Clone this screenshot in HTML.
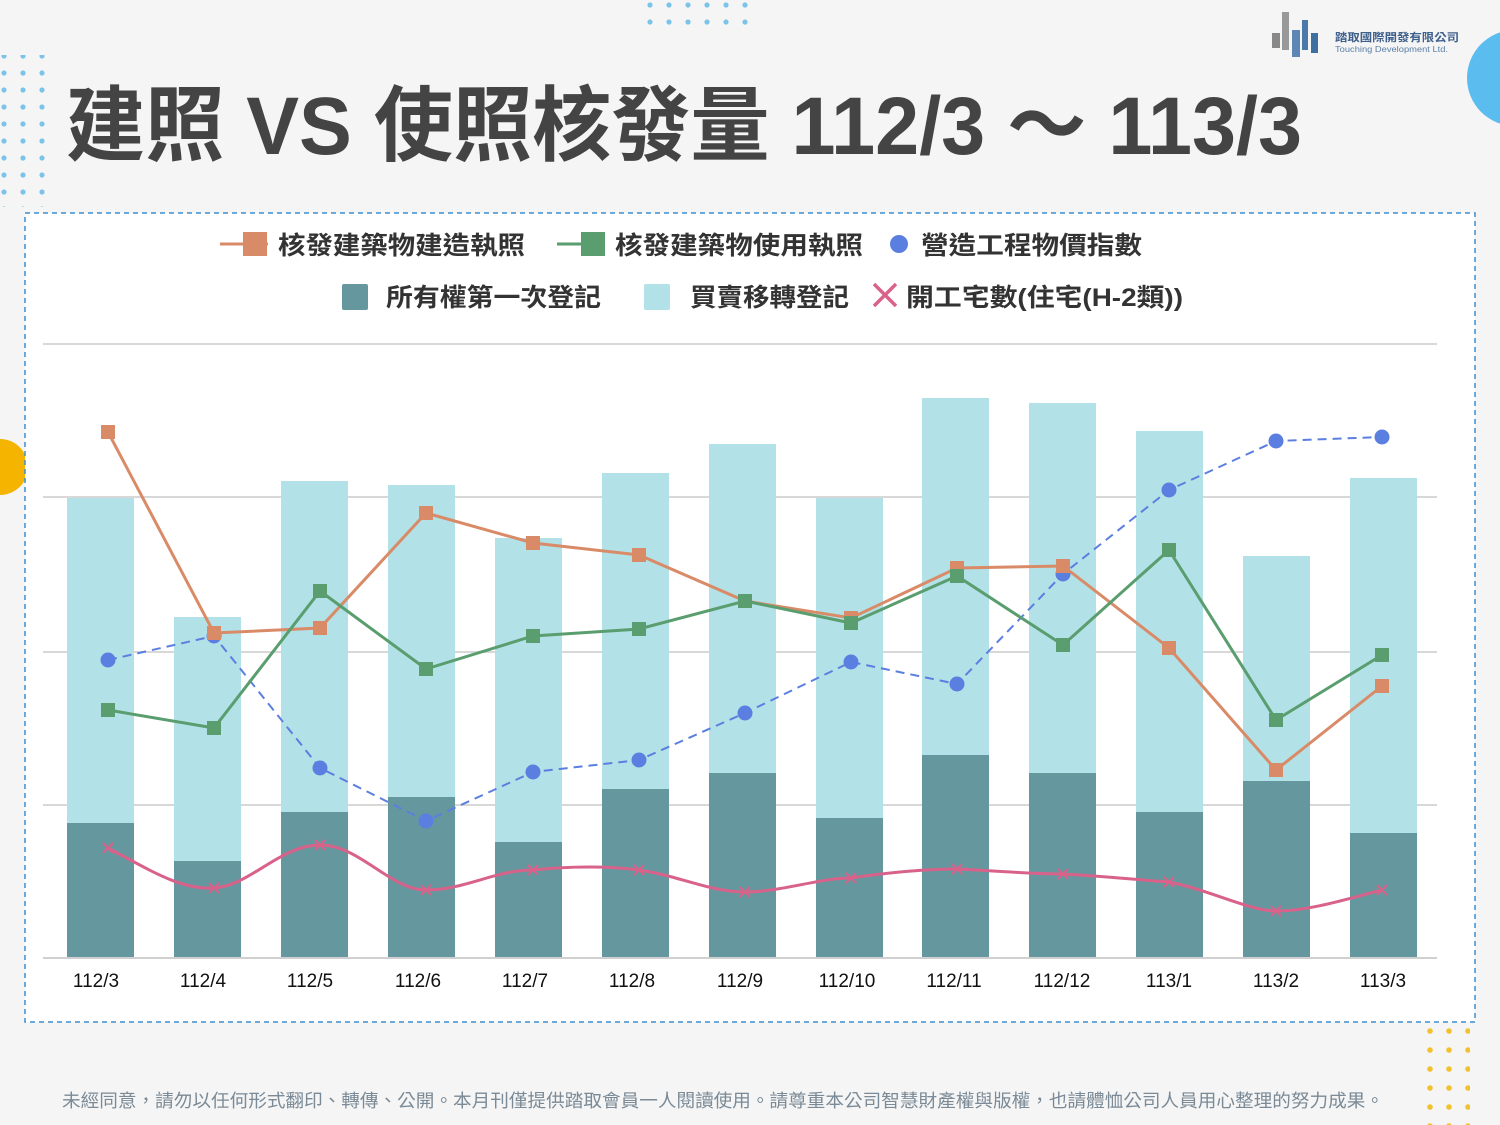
<!DOCTYPE html>
<html><head><meta charset="utf-8"><style>
body{margin:0;width:1500px;height:1125px;background:#f6f6f6;overflow:hidden;font-family:"Liberation Sans","Noto Sans CJK TC",sans-serif;}
</style></head><body>
<svg width="1500" height="1125" xmlns="http://www.w3.org/2000/svg" style="position:absolute;left:0;top:0">
<defs>
<pattern id="dots" width="19" height="17" patternUnits="userSpaceOnUse"><circle cx="4" cy="5" r="2.6" fill="#7cc3ea"/></pattern>
<pattern id="ydots" width="19" height="19" patternUnits="userSpaceOnUse"><circle cx="5" cy="5" r="2.8" fill="#f2c12e"/></pattern>
<pattern id="tdots" width="19" height="17" patternUnits="userSpaceOnUse"><circle cx="4" cy="5" r="2.6" fill="#7cc3ea"/></pattern>
</defs>
<rect width="1500" height="1125" fill="#f5f5f5"/>
<rect x="0" y="55" width="52" height="152" fill="url(#dots)"/>
<rect x="640" y="2" width="110" height="32" fill="url(#tdots)"/>
<rect x="1418" y="1025" width="52" height="100" fill="url(#ydots)"/>
<circle cx="1515" cy="78" r="48" fill="#5bbcf0"/>
<circle cx="0" cy="467" r="28" fill="#f5b400"/>
<g>
<rect x="1272" y="33" width="8" height="15" fill="#888"/><rect x="1282" y="12" width="7" height="38" fill="#999"/>
<rect x="1292" y="30" width="8" height="27" fill="#5b86b5"/><rect x="1302" y="20" width="6" height="30" fill="#4a79aa"/><rect x="1311" y="33" width="7" height="20" fill="#3f6fa0"/>
</g>
<text x="1335" y="41" font-size="11" font-weight="bold" fill="#3d5f8c" textLength="124" lengthAdjust="spacingAndGlyphs">踏取國際開發有限公司</text>
<text x="1335" y="52" font-size="8" fill="#5a7fa8" textLength="113" lengthAdjust="spacingAndGlyphs">Touching Development Ltd.</text>
<text x="66" y="154" font-size="82" font-weight="bold" fill="#444" textLength="1236" lengthAdjust="spacingAndGlyphs">建照 VS 使照核發量 112/3 ～ 113/3</text>
<rect x="25" y="213" width="1450" height="809" fill="#fff" stroke="#3d8fd0" stroke-width="1.5" stroke-dasharray="5,4"/>
<line x1="220" y1="244" x2="268" y2="244" stroke="#d98b68" stroke-width="3"/><rect x="243" y="232" width="24" height="24" fill="#d98b68"/>
<text x="278" y="254" font-size="25" font-weight="bold" fill="#333" textLength="247" lengthAdjust="spacingAndGlyphs">核發建築物建造執照</text>
<line x1="557" y1="244" x2="605" y2="244" stroke="#5a9d6e" stroke-width="3"/><rect x="581" y="232" width="24" height="24" fill="#5a9d6e"/>
<text x="615" y="254" font-size="25" font-weight="bold" fill="#333" textLength="248" lengthAdjust="spacingAndGlyphs">核發建築物使用執照</text>
<circle cx="899" cy="244" r="9" fill="#5b7fe0"/>
<text x="921" y="254" font-size="25" font-weight="bold" fill="#333" textLength="221" lengthAdjust="spacingAndGlyphs">營造工程物價指數</text>
<rect x="342" y="284" width="26" height="26" rx="2" fill="#65979f"/>
<text x="386" y="306" font-size="25" font-weight="bold" fill="#333" textLength="215" lengthAdjust="spacingAndGlyphs">所有權第一次登記</text>
<rect x="644" y="284" width="26" height="26" rx="2" fill="#b2e1e7"/>
<text x="690" y="306" font-size="25" font-weight="bold" fill="#333" textLength="159" lengthAdjust="spacingAndGlyphs">買賣移轉登記</text>
<path d="M874 284 L896 306 M896 284 L874 306" stroke="#d9628a" stroke-width="3.5"/>
<text x="906" y="306" font-size="25" font-weight="bold" fill="#333" textLength="277" lengthAdjust="spacingAndGlyphs">開工宅數(住宅(H-2類))</text>
<g stroke="#d8d8d8" stroke-width="2">
<line x1="43" y1="344" x2="1437" y2="344"/><line x1="43" y1="497" x2="1437" y2="497"/><line x1="43" y1="652" x2="1437" y2="652"/><line x1="43" y1="805" x2="1437" y2="805"/>
</g>
<g fill="#b2e1e7">
<rect x="67" y="498" width="67" height="460"/><rect x="174" y="617" width="67" height="341"/><rect x="281" y="481" width="67" height="477"/><rect x="388" y="485" width="67" height="473"/><rect x="495" y="538" width="67" height="420"/><rect x="602" y="473" width="67" height="485"/><rect x="709" y="444" width="67" height="514"/><rect x="816" y="498" width="67" height="460"/><rect x="922" y="398" width="67" height="560"/><rect x="1029" y="403" width="67" height="555"/><rect x="1136" y="431" width="67" height="527"/><rect x="1243" y="556" width="67" height="402"/><rect x="1350" y="478" width="67" height="480"/>
</g>
<g fill="#65979f">
<rect x="67" y="823" width="67" height="135"/><rect x="174" y="861" width="67" height="97"/><rect x="281" y="812" width="67" height="146"/><rect x="388" y="797" width="67" height="161"/><rect x="495" y="842" width="67" height="116"/><rect x="602" y="789" width="67" height="169"/><rect x="709" y="773" width="67" height="185"/><rect x="816" y="818" width="67" height="140"/><rect x="922" y="755" width="67" height="203"/><rect x="1029" y="773" width="67" height="185"/><rect x="1136" y="812" width="67" height="146"/><rect x="1243" y="781" width="67" height="177"/><rect x="1350" y="833" width="67" height="125"/>
</g>
<line x1="43" y1="958" x2="1437" y2="958" stroke="#d0d0d0" stroke-width="2"/>
<path d="M108 848 C150 870,180 890,214 888 C250 886,280 845,320 845 C360 845,390 890,426 890 C465 890,495 870,533 870 C570 866,610 866,639 870 C680 876,710 892,745 892 C780 892,820 878,851 878 C890 872,930 869,957 869 C1000 871,1030 874,1063 874 C1100 876,1140 880,1169 882 C1210 890,1250 911,1276 911 C1310 911,1350 898,1382 890" fill="none" stroke="#d9628a" stroke-width="3"/>
<g stroke="#d9628a" stroke-width="2">
<path d="M103 843l10 10M113 843l-10 10M209 883l10 10M219 883l-10 10M315 840l10 10M325 840l-10 10M421 885l10 10M431 885l-10 10M528 865l10 10M538 865l-10 10M634 865l10 10M644 865l-10 10M740 887l10 10M750 887l-10 10M846 873l10 10M856 873l-10 10M952 864l10 10M962 864l-10 10M1058 869l10 10M1068 869l-10 10M1164 877l10 10M1174 877l-10 10M1271 906l10 10M1281 906l-10 10M1377 885l10 10M1387 885l-10 10"/>
</g>
<polyline points="108,660 214,636 320,768 426,821 533,772 639,760 745,713 851,662 957,684 1063,574 1169,490 1276,441 1382,437" fill="none" stroke="#5b7fe0" stroke-width="2" stroke-dasharray="9,6"/>
<g fill="#5b7fe0">
<circle cx="108" cy="660" r="7.5"/><circle cx="214" cy="636" r="7.5"/><circle cx="320" cy="768" r="7.5"/><circle cx="426" cy="821" r="7.5"/><circle cx="533" cy="772" r="7.5"/><circle cx="639" cy="760" r="7.5"/><circle cx="745" cy="713" r="7.5"/><circle cx="851" cy="662" r="7.5"/><circle cx="957" cy="684" r="7.5"/><circle cx="1063" cy="574" r="7.5"/><circle cx="1169" cy="490" r="7.5"/><circle cx="1276" cy="441" r="7.5"/><circle cx="1382" cy="437" r="7.5"/>
</g>
<polyline points="108,432 214,633 320,628 426,513 533,543 639,555 745,601 851,618 957,568 1063,566 1169,648 1276,770 1382,686" fill="none" stroke="#d98b68" stroke-width="3"/>
<g fill="#d98b68">
<rect x="101" y="425" width="14" height="14"/><rect x="207" y="626" width="14" height="14"/><rect x="313" y="621" width="14" height="14"/><rect x="419" y="506" width="14" height="14"/><rect x="526" y="536" width="14" height="14"/><rect x="632" y="548" width="14" height="14"/><rect x="738" y="594" width="14" height="14"/><rect x="844" y="611" width="14" height="14"/><rect x="950" y="561" width="14" height="14"/><rect x="1056" y="559" width="14" height="14"/><rect x="1162" y="641" width="14" height="14"/><rect x="1269" y="763" width="14" height="14"/><rect x="1375" y="679" width="14" height="14"/>
</g>
<polyline points="108,710 214,728 320,591 426,669 533,636 639,629 745,601 851,623 957,576 1063,645 1169,550 1276,720 1382,655" fill="none" stroke="#5a9d6e" stroke-width="3"/>
<g fill="#5a9d6e">
<rect x="101" y="703" width="14" height="14"/><rect x="207" y="721" width="14" height="14"/><rect x="313" y="584" width="14" height="14"/><rect x="419" y="662" width="14" height="14"/><rect x="526" y="629" width="14" height="14"/><rect x="632" y="622" width="14" height="14"/><rect x="738" y="594" width="14" height="14"/><rect x="844" y="616" width="14" height="14"/><rect x="950" y="569" width="14" height="14"/><rect x="1056" y="638" width="14" height="14"/><rect x="1162" y="543" width="14" height="14"/><rect x="1269" y="713" width="14" height="14"/><rect x="1375" y="648" width="14" height="14"/>
</g>
<g font-size="19" fill="#111" text-anchor="middle">
<text x="96" y="987">112/3</text><text x="203" y="987">112/4</text><text x="310" y="987">112/5</text><text x="418" y="987">112/6</text><text x="525" y="987">112/7</text><text x="632" y="987">112/8</text><text x="740" y="987">112/9</text><text x="847" y="987">112/10</text><text x="954" y="987">112/11</text><text x="1062" y="987">112/12</text><text x="1169" y="987">113/1</text><text x="1276" y="987">113/2</text><text x="1383" y="987">113/3</text>
</g>
<text x="62" y="1107" font-size="18" fill="#7a8a96" textLength="1322" lengthAdjust="spacingAndGlyphs">未經同意，請勿以任何形式翻印、轉傳、公開。本月刊僅提供踏取會員一人閱讀使用。請尊重本公司智慧財產權與版權，也請體恤公司人員用心整理的努力成果。</text>
</svg>
</body></html>
